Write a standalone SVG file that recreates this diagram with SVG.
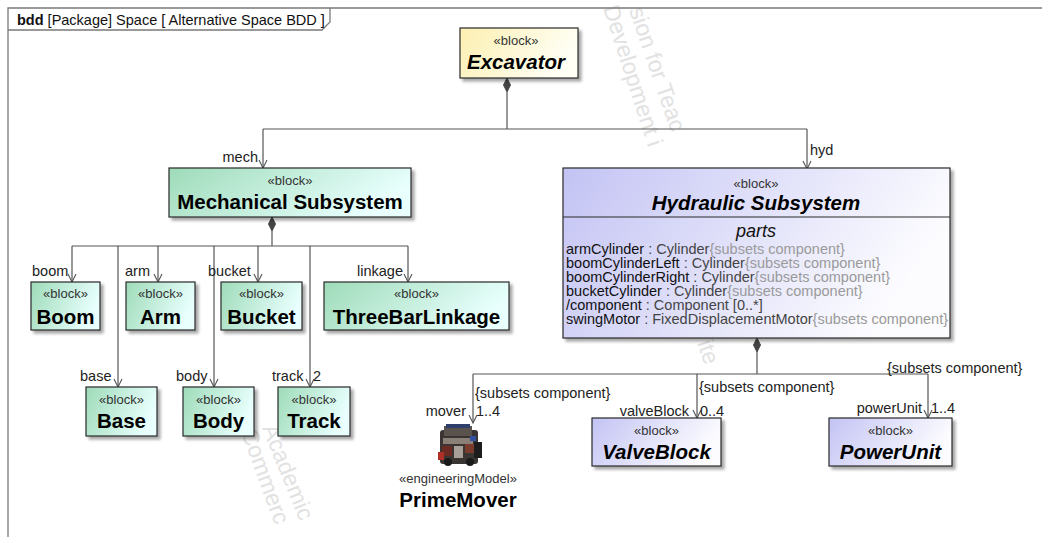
<svg xmlns="http://www.w3.org/2000/svg" width="1042" height="537" viewBox="0 0 1042 537">
  <defs>
    <linearGradient id="gYellow" x1="0" y1="0" x2="1" y2="0.3">
      <stop offset="0" stop-color="#fcefb0"/>
      <stop offset="1" stop-color="#fffff6"/>
    </linearGradient>
    <linearGradient id="gGreen" x1="0" y1="0" x2="1" y2="0.3">
      <stop offset="0" stop-color="#9edbb9"/>
      <stop offset="1" stop-color="#e8fffd"/>
    </linearGradient>
    <linearGradient id="gBlue" x1="0" y1="0" x2="1" y2="0.3">
      <stop offset="0" stop-color="#c3c3f4"/>
      <stop offset="1" stop-color="#fcfcff"/>
    </linearGradient>
    <filter id="shadow" x="-10%" y="-10%" width="130%" height="140%">
      <feGaussianBlur in="SourceAlpha" stdDeviation="1.5"/>
      <feOffset dx="3" dy="3" result="o"/>
      <feComponentTransfer><feFuncA type="linear" slope="0.35"/></feComponentTransfer>
      <feMerge><feMergeNode/><feMergeNode in="SourceGraphic"/></feMerge>
    </filter>
    <marker id="open" viewBox="0 0 10 10" refX="9" refY="5" markerWidth="10" markerHeight="10" markerUnits="userSpaceOnUse" orient="auto">
      <path d="M1,1 L9,5 L1,9" fill="none" stroke="#555" stroke-width="1.1"/>
    </marker>
    <style>
      text { font-family: "Liberation Sans", Arial, sans-serif; fill: #111; }
      .box { stroke: #2a2a2a; stroke-width: 1.2; filter: url(#shadow); }
      .stereo { font-size: 13px; fill: #333; text-anchor: middle; }
      .name { font-size: 20.5px; font-weight: bold; text-anchor: middle; fill: #000; }
      .italic { font-style: italic; }
      .lbl { font-size: 14.5px; fill: #222; }
      .end { text-anchor: end; }
      .row { font-size: 14.5px; }
      .ty { fill: #444; }
      .sub { fill: #9a9a9a; }
      .wm { font-size: 23px; fill: #e2e2e2; }
      .conn { fill: none; stroke: #555; stroke-width: 1.2; }
      .arrow { marker-end: url(#open); }
      .dia { fill: #444; stroke: #444; stroke-width: 1; }
    </style>
  </defs>

  <rect width="1042" height="537" fill="#ffffff"/>

  <!-- faint background watermark -->
  <g id="watermark">
    <text class="wm" transform="translate(629,10) rotate(71)">sion for Teac</text>
    <text class="wm" transform="translate(603,8) rotate(72)">Development i</text>
    <text class="wm" transform="translate(697,343) rotate(71)">ite</text>
    <text class="wm" transform="translate(262,428) rotate(68)">Academic</text>
    <text class="wm" transform="translate(241,432) rotate(70)">Commerc</text>
  </g>

  <!-- diagram frame and its header tab -->
  <g id="frame">
    <path d="M8,537 L8,8 L1042,8" fill="none" stroke="#7a7a7a" stroke-width="1.3"/>
    <path d="M8,30 L322,30 L330,22 L330,8" fill="none" stroke="#7a7a7a" stroke-width="1.3"/>
    <text x="17" y="25" font-size="14.5"><tspan font-weight="bold">bdd</tspan> [Package] Space [ Alternative Space BDD ]</text>
  </g>

  <!-- part-property connectors -->
  <g id="connectors">
    <!-- Excavator composition -->
    <polygon class="dia" points="507,78 510.5,85 507,92 503.5,85"/>
    <path class="conn" d="M507,92 L507,129"/>
    <path class="conn" d="M263,129 L807,129"/>
    <path class="conn arrow" d="M263,129 L263,168"/>
    <path class="conn arrow" d="M807,129 L807,169"/>

    <!-- Mechanical Subsystem composition -->
    <polygon class="dia" points="272,217 275.5,224 272,231 268.5,224"/>
    <path class="conn" d="M272,231 L272,246"/>
    <path class="conn" d="M72,246 L408,246"/>
    <path class="conn arrow" d="M72,246 L72,282"/>
    <path class="conn arrow" d="M158,246 L158,282"/>
    <path class="conn arrow" d="M258,246 L258,282"/>
    <path class="conn arrow" d="M408,246 L408,282"/>
    <path class="conn arrow" d="M118,246 L118,387"/>
    <path class="conn arrow" d="M214,246 L214,387"/>
    <path class="conn arrow" d="M310,246 L310,387"/>

    <!-- Hydraulic Subsystem composition -->
    <polygon class="dia" points="757,338 760.5,345 757,352 753.5,345"/>
    <path class="conn" d="M757,352 L757,374"/>
    <path class="conn" d="M473,374 L928,374"/>
    <path class="conn arrow" d="M473,374 L473,423"/>
    <path class="conn arrow" d="M697,374 L697,418"/>
    <path class="conn arrow" d="M928,374 L928,418"/>

    <!-- role names and multiplicities -->
    <text class="lbl end" x="258" y="162">mech</text>
    <text class="lbl" x="810" y="155">hyd</text>
    <text class="lbl" x="32" y="276">boom</text>
    <text class="lbl" x="125" y="276">arm</text>
    <text class="lbl" x="208" y="276">bucket</text>
    <text class="lbl" x="357" y="276">linkage</text>
    <text class="lbl" x="80" y="381">base</text>
    <text class="lbl" x="176" y="381">body</text>
    <text class="lbl" x="272" y="381">track</text>
    <text class="lbl" x="313" y="381">2</text>
    <text class="lbl" x="475" y="398">{subsets component}</text>
    <text class="lbl end" x="466" y="416">mover</text>
    <text class="lbl" x="476" y="416">1..4</text>
    <text class="lbl" x="699" y="392">{subsets component}</text>
    <text class="lbl end" x="689" y="416">valveBlock</text>
    <text class="lbl" x="700" y="416">0..4</text>
    <text class="lbl" x="887" y="373">{subsets component}</text>
    <text class="lbl end" x="922" y="413">powerUnit</text>
    <text class="lbl" x="931" y="413">1..4</text>
  </g>

  <g id="excavator">
    <rect class="box" x="460" y="28" width="118" height="50" fill="url(#gYellow)"/>
    <text class="stereo" x="516" y="45">«block»</text>
    <text class="name italic" x="516" y="69">Excavator</text>
  </g>

  <g id="mechanical-subsystem">
    <rect class="box" x="169" y="168" width="242" height="49" fill="url(#gGreen)"/>
    <text class="stereo" x="290" y="185">«block»</text>
    <text class="name" x="290" y="209">Mechanical Subsystem</text>
  </g>

  <g id="boom">
    <rect class="box" x="31" y="282" width="69" height="48" fill="url(#gGreen)"/>
    <text class="stereo" x="65.5" y="298">«block»</text>
    <text class="name" x="65.5" y="324">Boom</text>
  </g>

  <g id="arm">
    <rect class="box" x="126" y="282" width="69" height="48" fill="url(#gGreen)"/>
    <text class="stereo" x="160.5" y="298">«block»</text>
    <text class="name" x="160.5" y="324">Arm</text>
  </g>

  <g id="bucket">
    <rect class="box" x="221" y="282" width="81" height="48" fill="url(#gGreen)"/>
    <text class="stereo" x="261.5" y="298">«block»</text>
    <text class="name" x="261.5" y="324">Bucket</text>
  </g>

  <g id="three-bar-linkage">
    <rect class="box" x="324" y="282" width="185" height="48" fill="url(#gGreen)"/>
    <text class="stereo" x="416.5" y="298">«block»</text>
    <text class="name" x="416.5" y="324">ThreeBarLinkage</text>
  </g>

  <g id="base">
    <rect class="box" x="86" y="387" width="71" height="49" fill="url(#gGreen)"/>
    <text class="stereo" x="121.5" y="404">«block»</text>
    <text class="name" x="121.5" y="428">Base</text>
  </g>

  <g id="body">
    <rect class="box" x="183" y="387" width="71" height="49" fill="url(#gGreen)"/>
    <text class="stereo" x="218.5" y="404">«block»</text>
    <text class="name" x="218.5" y="428">Body</text>
  </g>

  <g id="track">
    <rect class="box" x="278" y="387" width="72" height="49" fill="url(#gGreen)"/>
    <text class="stereo" x="314" y="404">«block»</text>
    <text class="name" x="314" y="428">Track</text>
  </g>

  <g id="hydraulic-subsystem">
    <rect class="box" x="563" y="168" width="387" height="170" fill="url(#gBlue)"/>
    <line x1="563" y1="217" x2="950" y2="217" stroke="#2a2a2a" stroke-width="1.2"/>
    <text class="stereo" x="756" y="188">«block»</text>
    <text class="name italic" x="756" y="210">Hydraulic Subsystem</text>
    <text x="756" y="237" font-size="18" font-style="italic" text-anchor="middle" fill="#222">parts</text>
    <text class="row" x="566" y="254">armCylinder<tspan class="ty"> : Cylinder</tspan><tspan class="sub">{subsets component}</tspan></text>
    <text class="row" x="566" y="268">boomCylinderLeft<tspan class="ty"> : Cylinder</tspan><tspan class="sub">{subsets component}</tspan></text>
    <text class="row" x="566" y="282">boomCylinderRight<tspan class="ty"> : Cylinder</tspan><tspan class="sub">{subsets component}</tspan></text>
    <text class="row" x="566" y="296">bucketCylinder<tspan class="ty"> : Cylinder</tspan><tspan class="sub">{subsets component}</tspan></text>
    <text class="row" x="566" y="310">/component<tspan class="ty"> : Component [0..*]</tspan></text>
    <text class="row" x="566" y="324">swingMotor<tspan class="ty"> : FixedDisplacementMotor</tspan><tspan class="sub">{subsets component}</tspan></text>
  </g>

  <g id="prime-mover">
    <!-- engine icon -->
    <g transform="translate(436,424)">
      <rect x="4" y="6" width="38" height="34" rx="3" fill="#3a3532"/>
      <rect x="8" y="2" width="28" height="10" fill="#5a524c"/>
      <rect x="10" y="0" width="24" height="4" fill="#2d3f6a"/>
      <rect x="7" y="14" width="30" height="6" fill="#8a8078"/>
      <rect x="6" y="22" width="10" height="10" fill="#6b2a22"/>
      <rect x="18" y="22" width="9" height="12" fill="#a8a098"/>
      <rect x="29" y="20" width="10" height="9" fill="#7a3b2c"/>
      <rect x="38" y="18" width="8" height="16" fill="#1d1d1d"/>
      <rect x="34" y="12" width="6" height="5" fill="#3050a0"/>
      <circle cx="12" cy="38" r="4" fill="#1a1a1a"/>
      <circle cx="34" cy="38" r="4" fill="#1a1a1a"/>
      <rect x="2" y="28" width="6" height="8" fill="#b03028"/>
    </g>
    <text class="stereo" x="458" y="483">«engineeringModel»</text>
    <text class="name" x="458" y="507">PrimeMover</text>
  </g>

  <g id="valve-block">
    <rect class="box" x="592" y="418" width="129" height="48" fill="url(#gBlue)"/>
    <text class="stereo" x="656.5" y="435">«block»</text>
    <text class="name italic" x="656.5" y="459">ValveBlock</text>
  </g>

  <g id="power-unit">
    <rect class="box" x="829" y="418" width="123" height="48" fill="url(#gBlue)"/>
    <text class="stereo" x="890.5" y="435">«block»</text>
    <text class="name italic" x="890.5" y="459">PowerUnit</text>
  </g>
</svg>
